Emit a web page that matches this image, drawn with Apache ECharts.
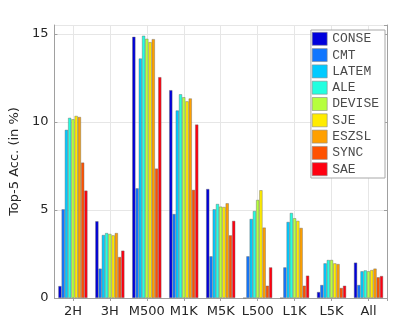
<!DOCTYPE html>
<html><head><meta charset="utf-8">
<script src="https://cdn.jsdelivr.net/npm/echarts@6/dist/echarts.min.js"></script>
<style>html,body{margin:0;padding:0;background:#fff}#c{width:412px;height:335px}</style>
</head><body><div id="c"></div>
<script>
const categories = ['2H','3H','M500','M1K','M5K','L500','L1K','L5K','All'];
const seriesNames = ['CONSE','CMT','LATEM','ALE','DEVISE','SJE','ESZSL','SYNC','SAE'];
const colors = ['#0000dc','#1076ff','#00caff','#22ffe0','#b6ff3e','#ffec00','#ffa000','#ff5200','#ff0010'];
const CONSE  = [0.68, 4.36, 14.83, 11.80, 6.19, 0.00, 0.00, 0.34, 2.01];
const CMT    = [5.04, 1.67, 6.23, 4.77, 2.37, 2.37, 1.74, 0.74, 0.74];
const LATEM  = [9.55, 3.58, 13.60, 10.65, 5.04, 4.49, 4.32, 1.97, 1.52];
const ALE    = [10.23, 3.69, 14.89, 11.57, 5.34, 4.94, 4.83, 2.16, 1.57];
const DEVISE = [10.15, 3.64, 14.72, 11.40, 5.19, 5.57, 4.53, 2.16, 1.52];
const SJE    = [10.34, 3.56, 14.53, 11.17, 5.17, 6.12, 4.38, 1.97, 1.59];
const ESZSL  = [10.28, 3.69, 14.70, 11.33, 5.38, 4.00, 3.98, 1.93, 1.67];
const SYNC   = [7.69, 2.33, 7.35, 6.14, 3.56, 0.70, 0.70, 0.57, 1.18];
const SAE    = [6.10, 2.69, 12.54, 9.85, 4.38, 1.74, 1.27, 0.70, 1.25];
const values = [CONSE, CMT, LATEM, ALE, DEVISE, SJE, ESZSL, SYNC, SAE];
const yTicks = {min: 0, max: 15.5, interval: 5};
const yName = 'Top-5 Acc. (in %)';

const halfSlots = [];
categories.forEach(c => { halfSlots.push(c + 'a'); halfSlots.push(c + 'b'); });

const font = 'DejaVu Sans';
const chart = echarts.init(document.getElementById('c'), null, {renderer: 'canvas'});
chart.setOption({
  animation: false,
  backgroundColor: '#fff',
  grid: {left: 51, right: 25, top: 25, bottom: 37, containLabel: false},
  legend: {
    orient: 'vertical', right: 27, top: 30,
    itemWidth: 15, itemHeight: 13, itemGap: 2.7,
    padding: [2, 6, 2, 1],
    borderColor: '#a8a8a8', borderWidth: 1, backgroundColor: '#fff',
    textStyle: {fontFamily: 'Liberation Mono', fontSize: 13, color: '#4a4a4a', lineHeight: 13},
    itemStyle: {borderColor: '#8a8a8a', borderWidth: 0.6},
    icon: 'rect',
    data: seriesNames
  },
  xAxis: [{
    type: 'category', data: categories, position: 'bottom',
    axisLine: {lineStyle: {color: '#a0a0a0', width: 1}},
    axisTick: {show: false},
    axisLabel: {interval: 0, fontFamily: font, fontSize: 13, color: '#262626', margin: 7},
    splitLine: {show: false}
  }, {
    type: 'category', data: halfSlots, position: 'top',
    axisLine: {show: true, lineStyle: {color: '#a0a0a0', width: 1}},
    axisTick: {show: true, inside: true, length: 3, interval: (i) => i % 2 === 1, lineStyle: {color: '#a0a0a0'}},
    axisLabel: {show: false},
    splitLine: {show: true, interval: (i) => i % 2 === 1, lineStyle: {color: '#e6e6e6', width: 1}}
  }],
  yAxis: [{
    type: 'value', min: yTicks.min, max: yTicks.max, interval: yTicks.interval,
    name: yName, nameLocation: 'middle', nameGap: 27,
    nameTextStyle: {fontFamily: font, fontSize: 13, color: '#262626'},
    axisLine: {show: true, lineStyle: {color: '#a0a0a0'}},
    axisTick: {show: true, inside: true, length: 3, lineStyle: {color: '#a0a0a0'}},
    axisLabel: {fontFamily: font, fontSize: 13, color: '#262626', margin: 6},
    splitLine: {show: true, lineStyle: {color: '#e6e6e6'}}
  }, {
    type: 'value', min: yTicks.min, max: yTicks.max, interval: yTicks.interval, position: 'right',
    axisLine: {show: true, lineStyle: {color: '#a0a0a0'}},
    axisTick: {show: true, inside: true, length: 3, lineStyle: {color: '#a0a0a0'}},
    axisLabel: {show: false}, splitLine: {show: false}
  }],
  series: seriesNames.map((n, k) => ({
    name: n, type: 'bar', xAxisIndex: 0, yAxisIndex: 0,
    data: values[k],
    barGap: '0%', barCategoryGap: '21%',
    itemStyle: {color: colors[k], borderColor: 'rgba(100,100,100,0.7)', borderWidth: 0.6}
  }))
});
</script></body></html>
